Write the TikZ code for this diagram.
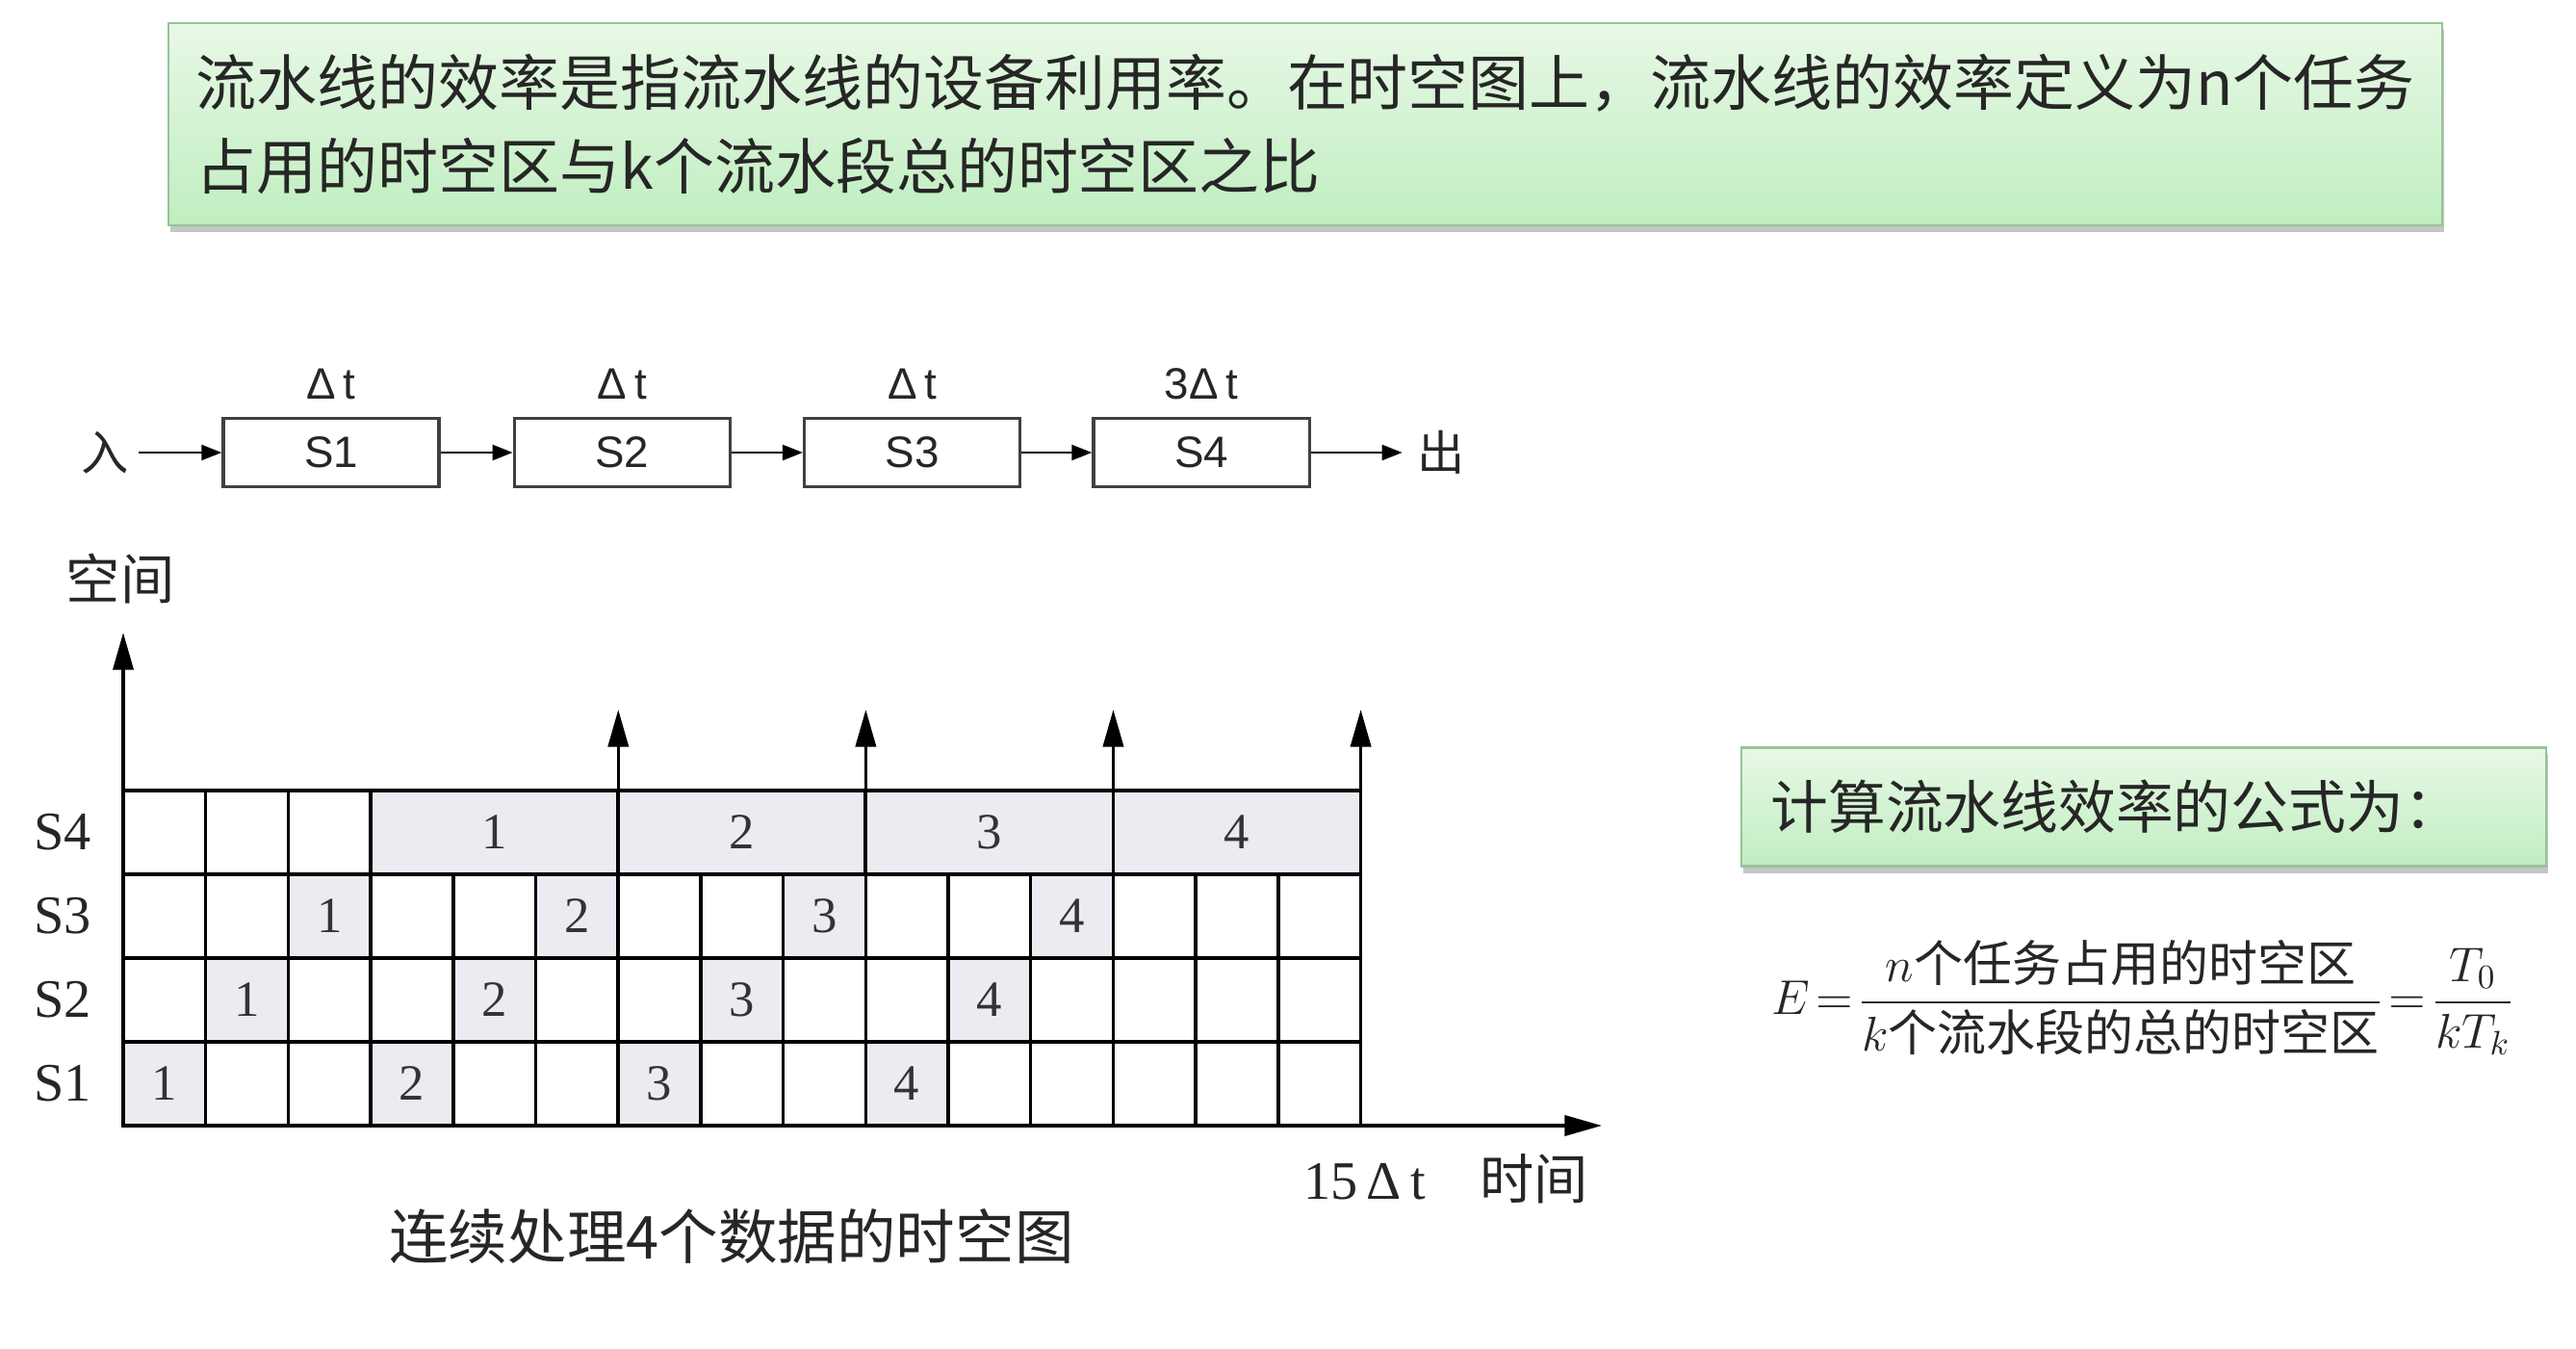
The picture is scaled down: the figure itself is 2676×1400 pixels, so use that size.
\documentclass[tikz,border=0pt]{standalone}
\usepackage{amsmath}
\usepackage{fontspec}
\setmainfont{Liberation Serif}
\newfontfamily\cjk{Noto Sans CJK SC}
\newfontfamily\sans{Liberation Sans}
\usetikzlibrary{positioning, arrows.meta, shadows}
\definecolor{notetop}{RGB}{232,248,230}
\definecolor{notebottom}{RGB}{192,238,192}
\definecolor{noteline}{RGB}{150,195,150}
\definecolor{cellgray}{RGB}{234,236,241}

\begin{document}
\begin{tikzpicture}[x=0.01cm, y=-0.01cm]
	\tikzset{
		>=Stealth,
		notebox/.style={draw=noteline, line width=0.6pt, top color=notetop, bottom color=notebottom, drop shadow={shadow xshift=0.02cm, shadow yshift=-0.07cm, fill=black!45, opacity=0.5}},
		stagebox/.style={draw=black!75, line width=0.9pt, minimum width=2.24cm, minimum height=0.71cm, font=\sans\fontsize{13pt}{15pt}\selectfont},
		cellbox/.style={draw, line width=1pt, inner sep=0pt, outer sep=0pt, minimum width=0.857cm, minimum height=0.87cm, font=\fontsize{15pt}{17pt}\selectfont, text=black!80},
		axis/.style={line width=1pt, -{Triangle[length=11pt, width=6pt]}},
		flow/.style={line width=0.8pt, -{Triangle[length=6pt, width=4.5pt]}},
		every node/.style={text=black!85}
	}
	\fill[white] (0,0) rectangle (2676,1400);
	\useasboundingbox (0,0) rectangle (2676,1400);
	
	% Definition note
	\node[notebox, minimum width=23.6cm, minimum height=2.1cm] (defbox) at (1356,129) {};
	\node[anchor=west, align=left, inner sep=0pt, font=\cjk\fontsize{17.9pt}{24.5pt}\selectfont] (deftext) at ([xshift=0.29cm]defbox.west) {流水线的效率是指流水线的设备利用率。在时空图上，流水线的效率定义为n个任务\\占用的时空区与k个流水段总的时空区之比};
	
	% Pipeline stages
	\node[stagebox] (s1) at (344,470) {S1};
	\node[stagebox, right=0.75cm of s1] (s2) {S2};
	\node[stagebox, right=0.74cm of s2] (s3) {S3};
	\node[stagebox, right=0.73cm of s3] (s4) {S4};
	\node[left=0.86cm of s1, inner sep=0.1cm, font=\cjk\fontsize{14pt}{16pt}\selectfont] (entry) {入};
	\node[right=0.95cm of s4, inner sep=0.15cm, font=\cjk\fontsize{14pt}{16pt}\selectfont] (exit) {出};
	
	\draw[flow] (entry) -- (s1);
	\draw[flow] (s1) -- (s2);
	\draw[flow] (s2) -- (s3);
	\draw[flow] (s3) -- (s4);
	\draw[flow] (s4) -- (exit);
	
	% Stage times
	\node[above=0.06cm of s1, font=\sans\fontsize{13pt}{15pt}\selectfont] (t1) {Δ\,t};
	\node[above=0.06cm of s2, font=\sans\fontsize{13pt}{15pt}\selectfont] (t2) {Δ\,t};
	\node[above=0.06cm of s3, font=\sans\fontsize{13pt}{15pt}\selectfont] (t3) {Δ\,t};
	\node[above=0.06cm of s4, font=\sans\fontsize{13pt}{15pt}\selectfont] (t4) {3Δ\,t};
	
	% Space-time chart
	\foreach \r in {1,2,3}
		\foreach \c in {1,...,15}
			\node[cellbox] (c\r-\c) at ({128+(\c-0.5)*85.7},{1169-(\r-0.5)*87}) {};
	\foreach \c in {1,2,3}
		\node[cellbox] (c4-\c) at ({128+(\c-0.5)*85.7},{1169-3.5*87}) {};
	
	% Occupied cells
	\foreach \t in {1,...,4}{
		\foreach \r in {1,2,3}{
			\pgfmathtruncatemacro{\col}{3*\t-3+\r}
			\node[cellbox, fill=cellgray] (job\t-\r) at (c\r-\col) {\t};
		}
		\node[cellbox, fill=cellgray, minimum width=2.571cm] (span\t) at ({128+(3*\t+1.5)*85.7},{1169-3.5*87}) {\t};
	}
	
	% Axes
	\coordinate (origin) at (128,1169);
	\coordinate (ytip) at (128,657);
	\coordinate (xtip) at (1664,1169);
	\draw[axis] (origin) -- (ytip);
	\draw[axis] (origin) -- (xtip);
	\foreach \t in {1,...,4}
		\draw[axis] (span\t.north east) -- ([yshift=0.84cm]span\t.north east);
	
	% Annotations
	\foreach \r in {1,...,4}
		\node[font=\fontsize{16pt}{18pt}\selectfont] (lbl\r) at (65,{1169-(\r-0.5)*87}) {S\r};
	\node[font=\cjk\fontsize{16pt}{18pt}\selectfont] (space) at (125,601) {空间};
	\node[font=\fontsize{16pt}{18pt}\selectfont] (time) at (1502,1224) {15\,Δ\,t\quad{\cjk 时间}};
	\node[font=\cjk\fontsize{17.5pt}{20pt}\selectfont] (caption) at (760,1284) {连续处理4个数据的时空图};
	
	% Efficiency formula
	\node[notebox, minimum width=8.36cm, minimum height=1.23cm] (formbox) at (2227,838) {};
	\node[anchor=west, inner sep=0pt, font=\cjk\fontsize{17pt}{20pt}\selectfont] (formtitle) at ([xshift=0.31cm]formbox.west) {计算流水线效率的公式为：};
	\node[anchor=west, inner sep=0pt, font=\fontsize{14.5pt}{18pt}\selectfont] (formula) at (1840,1036) {\thickmuskip=2mu$E=\dfrac{n\text{\cjk 个任务占用的时空区}}{k\text{\cjk 个流水段的总的时空区}}=\dfrac{T_0}{kT_k}$};
	
\end{tikzpicture}
\end{document}
